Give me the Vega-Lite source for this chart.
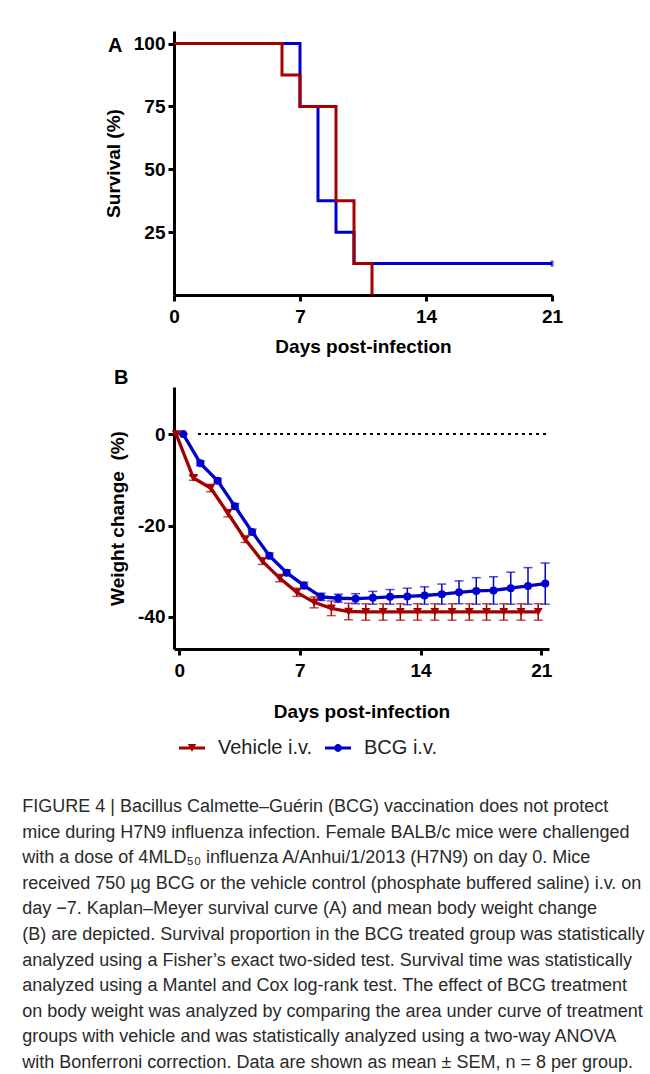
{
  "$schema": "https://vega.github.io/schema/vega-lite/v6.json",
  "background": "white",
  "padding": {"left": 22, "top": 31, "right": 5, "bottom": 5},
  "config": {
    "view": {"stroke": null},
    "font": "Liberation Sans",
    "axis": {
      "grid": false,
      "domainColor": "black",
      "domainWidth": 3,
      "tickColor": "black",
      "tickWidth": 3,
      "tickSize": 6,
      "labelFont": "Liberation Sans",
      "labelFontWeight": "bold",
      "labelFontSize": 19,
      "labelColor": "black",
      "labelPadding": 3,
      "labelFlush": false,
      "titleFont": "Liberation Sans",
      "titleFontWeight": "bold",
      "titleFontSize": 19,
      "titleColor": "black"
    },
    "legend": {
      "labelFont": "Liberation Sans",
      "labelFontSize": 20,
      "labelColor": "#222222",
      "symbolSize": 676,
      "symbolStrokeWidth": 0,
      "symbolOpacity": 1,
      "labelOffset": 13,
      "columnPadding": 12,
      "padding": 5,
      "offset": 9
    }
  },
  "datasets": {
    "survival": [
      {"group": "BCG i.v.", "day": 0, "survival": 100},
      {"group": "BCG i.v.", "day": 7, "survival": 75},
      {"group": "BCG i.v.", "day": 8, "survival": 37.5},
      {"group": "BCG i.v.", "day": 9, "survival": 25},
      {"group": "BCG i.v.", "day": 10, "survival": 12.5},
      {"group": "BCG i.v.", "day": 21, "survival": 12.5},
      {"group": "Vehicle i.v.", "day": 0, "survival": 100},
      {"group": "Vehicle i.v.", "day": 6, "survival": 87.5},
      {"group": "Vehicle i.v.", "day": 7, "survival": 75},
      {"group": "Vehicle i.v.", "day": 9, "survival": 37.5},
      {"group": "Vehicle i.v.", "day": 10, "survival": 12.5},
      {"group": "Vehicle i.v.", "day": 11, "survival": 0}
    ],
    "censored": [
      {"group": "BCG i.v.", "day": 21, "survival": 12.5}
    ],
    "weight": [
      {"group": "BCG i.v.", "day": 0, "mean": 0, "lo": 0, "hi": 0},
      {"group": "BCG i.v.", "day": 1, "mean": -6.4, "lo": -6.9, "hi": -5.9},
      {"group": "BCG i.v.", "day": 2, "mean": -10.2, "lo": -10.7, "hi": -9.7},
      {"group": "BCG i.v.", "day": 3, "mean": -15.8, "lo": -16.4, "hi": -15.2},
      {"group": "BCG i.v.", "day": 4, "mean": -21.4, "lo": -22.0, "hi": -20.8},
      {"group": "BCG i.v.", "day": 5, "mean": -26.6, "lo": -27.2, "hi": -26.0},
      {"group": "BCG i.v.", "day": 6, "mean": -30.3, "lo": -30.9, "hi": -29.7},
      {"group": "BCG i.v.", "day": 7, "mean": -33.1, "lo": -33.8, "hi": -32.4},
      {"group": "BCG i.v.", "day": 8, "mean": -35.6, "lo": -36.4, "hi": -34.8},
      {"group": "BCG i.v.", "day": 9, "mean": -35.9, "lo": -36.8, "hi": -35.0},
      {"group": "BCG i.v.", "day": 10, "mean": -36.0, "lo": -37.1, "hi": -34.9},
      {"group": "BCG i.v.", "day": 11, "mean": -35.8, "lo": -37.2, "hi": -34.4},
      {"group": "BCG i.v.", "day": 12, "mean": -35.6, "lo": -37.2, "hi": -34.0},
      {"group": "BCG i.v.", "day": 13, "mean": -35.5, "lo": -37.3, "hi": -33.7},
      {"group": "BCG i.v.", "day": 14, "mean": -35.3, "lo": -37.2, "hi": -33.4},
      {"group": "BCG i.v.", "day": 15, "mean": -35.0, "lo": -37.2, "hi": -32.8},
      {"group": "BCG i.v.", "day": 16, "mean": -34.6, "lo": -37.1, "hi": -32.1},
      {"group": "BCG i.v.", "day": 17, "mean": -34.3, "lo": -37.2, "hi": -31.4},
      {"group": "BCG i.v.", "day": 18, "mean": -34.2, "lo": -37.2, "hi": -31.2},
      {"group": "BCG i.v.", "day": 19, "mean": -33.7, "lo": -37.2, "hi": -30.2},
      {"group": "BCG i.v.", "day": 20, "mean": -33.2, "lo": -37.2, "hi": -29.2},
      {"group": "BCG i.v.", "day": 21, "mean": -32.7, "lo": -37.2, "hi": -28.2},
      {"group": "Vehicle i.v.", "day": 0, "mean": 0, "lo": 0, "hi": 0},
      {"group": "Vehicle i.v.", "day": 1, "mean": -9.6, "lo": -10.1, "hi": -9.1},
      {"group": "Vehicle i.v.", "day": 2, "mean": -11.8, "lo": -12.6, "hi": -11.0},
      {"group": "Vehicle i.v.", "day": 3, "mean": -17.3, "lo": -18.1, "hi": -16.5},
      {"group": "Vehicle i.v.", "day": 4, "mean": -23.0, "lo": -23.7, "hi": -22.3},
      {"group": "Vehicle i.v.", "day": 5, "mean": -27.8, "lo": -28.5, "hi": -27.1},
      {"group": "Vehicle i.v.", "day": 6, "mean": -31.5, "lo": -32.3, "hi": -30.7},
      {"group": "Vehicle i.v.", "day": 7, "mean": -34.6, "lo": -35.5, "hi": -33.7},
      {"group": "Vehicle i.v.", "day": 8, "mean": -36.8, "lo": -38.0, "hi": -35.6},
      {"group": "Vehicle i.v.", "day": 9, "mean": -38.1, "lo": -39.7, "hi": -36.5},
      {"group": "Vehicle i.v.", "day": 10, "mean": -38.8, "lo": -40.6, "hi": -37.0},
      {"group": "Vehicle i.v.", "day": 11, "mean": -38.9, "lo": -40.7, "hi": -37.1},
      {"group": "Vehicle i.v.", "day": 12, "mean": -38.9, "lo": -40.7, "hi": -37.1},
      {"group": "Vehicle i.v.", "day": 13, "mean": -38.9, "lo": -40.7, "hi": -37.1},
      {"group": "Vehicle i.v.", "day": 14, "mean": -38.9, "lo": -40.7, "hi": -37.1},
      {"group": "Vehicle i.v.", "day": 15, "mean": -38.9, "lo": -40.7, "hi": -37.1},
      {"group": "Vehicle i.v.", "day": 16, "mean": -38.9, "lo": -40.7, "hi": -37.1},
      {"group": "Vehicle i.v.", "day": 17, "mean": -38.9, "lo": -40.7, "hi": -37.1},
      {"group": "Vehicle i.v.", "day": 18, "mean": -38.9, "lo": -40.7, "hi": -37.1},
      {"group": "Vehicle i.v.", "day": 19, "mean": -38.9, "lo": -40.7, "hi": -37.1},
      {"group": "Vehicle i.v.", "day": 20, "mean": -38.9, "lo": -40.7, "hi": -37.1},
      {"group": "Vehicle i.v.", "day": 21, "mean": -38.9, "lo": -40.7, "hi": -37.1}
    ]
  },
  "title": {
    "text": [
      "FIGURE 4 | Bacillus Calmette–Guérin (BCG) vaccination does not protect",
      "mice during H7N9 influenza infection. Female BALB/c mice were challenged",
      "with a dose of 4MLD₅₀ influenza A/Anhui/1/2013 (H7N9) on day 0. Mice",
      "received 750 µg BCG or the vehicle control (phosphate buffered saline) i.v. on",
      "day −7. Kaplan–Meyer survival curve (A) and mean body weight change",
      "(B) are depicted. Survival proportion in the BCG treated group was statistically",
      "analyzed using a Fisher’s exact two-sided test. Survival time was statistically",
      "analyzed using a Mantel and Cox log-rank test. The effect of BCG treatment",
      "on body weight was analyzed by comparing the area under curve of treatment",
      "groups with vehicle and was statistically analyzed using a two-way ANOVA",
      "with Bonferroni correction. Data are shown as mean ± SEM, n = 8 per group."
    ],
    "orient": "bottom",
    "anchor": "start",
    "frame": "bounds",
    "font": "Liberation Sans",
    "fontSize": 18,
    "fontWeight": "normal",
    "color": "#2a2a2a",
    "lineHeight": 25.6,
    "offset": 35,
    "dx": -82
  },
  "spacing": 12,
  "vconcat": [
    {
      "width": 378,
      "height": 264,
      "title": {"text": "A", "anchor": "start", "frame": "group", "dx": -66, "dy": 25, "offset": 0, "font": "Liberation Sans", "fontSize": 20, "fontWeight": "bold", "color": "black"},
      "data": {"name": "survival"},
      "encoding": {
        "x": {"field": "day", "type": "quantitative", "title": "Days post-infection", "scale": {"domain": [0, 21], "nice": false, "zero": false}, "axis": {"values": [0, 7, 14, 21], "labelPadding": 6, "titlePadding": 11}},
        "y": {"field": "survival", "type": "quantitative", "title": "Survival (%)", "scale": {"domain": [0, 105], "nice": false}, "axis": {"values": [25, 50, 75, 100], "titlePadding": 10}}
      },
      "layer": [
        {
          "transform": [{"filter": "datum.group == 'BCG i.v.'"}],
          "mark": {"type": "line", "interpolate": "step-after", "strokeWidth": 3, "color": "#0000cc"}
        },
        {
          "transform": [{"filter": "datum.group == 'Vehicle i.v.'"}],
          "mark": {"type": "line", "interpolate": "step-after", "strokeWidth": 3, "color": "#a50000"}
        },
        {
          "data": {"name": "censored"},
          "mark": {"type": "tick", "orient": "vertical", "size": 6, "thickness": 3, "color": "#0000cc"}
        }
      ]
    },
    {
      "width": 375,
      "height": 262,
      "title": {"text": "B", "anchor": "start", "frame": "group", "dx": -60, "offset": -1, "font": "Liberation Sans", "fontSize": 20, "fontWeight": "bold", "color": "black"},
      "data": {"name": "weight"},
      "encoding": {
        "x": {"field": "day", "type": "quantitative", "title": "Days post-infection", "scale": {"domain": [-0.3, 21.45], "nice": false, "zero": false}, "axis": {"values": [0, 7, 14, 21], "labelPadding": 6, "titlePadding": 22}},
        "y": {"field": "mean", "type": "quantitative", "title": "Weight change\u00a0 (%)", "scale": {"domain": [-47, 10.3], "nice": false}, "axis": {"values": [0, -20, -40], "labelExpr": "'' + datum.value", "titlePadding": 10}}
      },
      "layer": [
        {
          "mark": {"type": "rule", "strokeDash": [2, 4.9], "strokeWidth": 2, "color": "black"},
          "encoding": {
            "x": {"datum": 1.1, "type": "quantitative", "title": "Days post-infection"},
            "x2": {"datum": 21.3},
            "y": {"datum": 0, "type": "quantitative", "title": "Weight change\u00a0 (%)"}
          }
        },
        {
          "transform": [{"filter": "datum.group == 'BCG i.v.'"}],
          "mark": {"type": "rule", "strokeWidth": 1.5, "color": "#0000cc", "xOffset": 4},
          "encoding": {"y": {"field": "lo", "type": "quantitative"}, "y2": {"field": "hi"}}
        },
        {
          "transform": [{"filter": "datum.group == 'BCG i.v.'"}],
          "mark": {"type": "tick", "orient": "horizontal", "size": 9, "thickness": 1.5, "color": "#0000cc", "xOffset": 4},
          "encoding": {"y": {"field": "lo", "type": "quantitative"}}
        },
        {
          "transform": [{"filter": "datum.group == 'BCG i.v.'"}],
          "mark": {"type": "tick", "orient": "horizontal", "size": 9, "thickness": 1.5, "color": "#0000cc", "xOffset": 4},
          "encoding": {"y": {"field": "hi", "type": "quantitative"}}
        },
        {
          "transform": [{"filter": "datum.group == 'BCG i.v.'"}],
          "mark": {"type": "line", "strokeWidth": 3.3, "color": "#0000cc", "xOffset": 4}
        },
        {
          "transform": [{"filter": "datum.group == 'BCG i.v.'"}],
          "mark": {"type": "point", "shape": "circle", "filled": true, "opacity": 1, "size": 64, "color": "#0000cc", "xOffset": 4}
        },
        {
          "transform": [{"filter": "datum.group == 'Vehicle i.v.'"}],
          "mark": {"type": "rule", "strokeWidth": 1.5, "color": "#a50000", "xOffset": -3},
          "encoding": {"y": {"field": "lo", "type": "quantitative"}, "y2": {"field": "hi"}}
        },
        {
          "transform": [{"filter": "datum.group == 'Vehicle i.v.'"}],
          "mark": {"type": "tick", "orient": "horizontal", "size": 9, "thickness": 1.5, "color": "#a50000", "xOffset": -3},
          "encoding": {"y": {"field": "lo", "type": "quantitative"}}
        },
        {
          "transform": [{"filter": "datum.group == 'Vehicle i.v.'"}],
          "mark": {"type": "tick", "orient": "horizontal", "size": 9, "thickness": 1.5, "color": "#a50000", "xOffset": -3},
          "encoding": {"y": {"field": "hi", "type": "quantitative"}}
        },
        {
          "transform": [{"filter": "datum.group == 'Vehicle i.v.'"}],
          "mark": {"type": "line", "strokeWidth": 3.3, "color": "#a50000", "xOffset": -3}
        },
        {
          "transform": [{"filter": "datum.group == 'Vehicle i.v.'"}],
          "mark": {"type": "point", "shape": "triangle-down", "filled": true, "opacity": 1, "size": 80, "color": "#a50000", "xOffset": -3}
        },
        {
          "mark": {"type": "point", "filled": true, "size": 0, "strokeWidth": 0},
          "encoding": {
            "fill": {"field": "group", "type": "nominal", "scale": {"domain": ["Vehicle i.v.", "BCG i.v."], "range": ["#a50000", "#0000cc"]}, "legend": {"title": null, "orient": "bottom", "direction": "horizontal", "symbolSize": 676, "symbolOpacity": 1}},
            "shape": {"field": "group", "type": "nominal", "scale": {"domain": ["Vehicle i.v.", "BCG i.v."], "range": ["M-1,-0.11L1,-0.11L1,0.11L-1,0.11ZM-0.32,-0.3L0.32,-0.3L0,0.3Z", "M-1,-0.11L1,-0.11L1,0.11L-1,0.11ZM0.3,0A0.3,0.3 0 1,1 -0.3,0A0.3,0.3 0 1,1 0.3,0Z"]}, "legend": {"title": null, "orient": "bottom", "direction": "horizontal", "symbolSize": 676, "symbolOpacity": 1}}
          }
        }
      ]
    }
  ]
}
